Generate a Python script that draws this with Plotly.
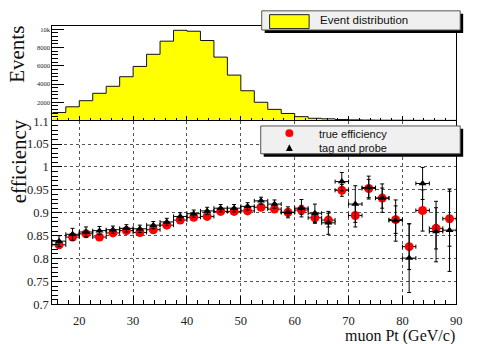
import plotly.graph_objects as go

# ---------------- data ----------------
bin_edges = [15, 17.5, 20, 22.5, 25, 27.5, 30, 32.5, 35, 37.5, 40, 42.5, 45, 47.5, 50,
             52.5, 55, 57.5, 60, 62.5, 65, 67.5, 70, 72.5, 75, 77.5, 80, 82.5, 85, 87.5, 90]
events = [870, 1500, 2170, 2980, 3750, 4800, 5930, 7260, 8700, 9890, 9790, 8770, 6950, 4980, 3260,
          2000, 1220, 770, 420, 240, 180, 110, 70, 50, 35, 30, 20, 15, 12, 10]

pt_centers = [16.25, 18.75, 21.25, 23.75, 26.25, 28.75, 31.25, 33.75, 36.25, 38.75,
              41.25, 43.75, 46.25, 48.75, 51.25, 53.75, 56.25, 58.75, 61.25, 63.75,
              66.25, 68.75, 71.25, 73.75, 76.25, 78.75, 81.25, 83.75, 86.25, 88.75]
pt_halfwidth = [1.25] * 30

true_eff = [0.830, 0.847, 0.854, 0.847, 0.856, 0.861, 0.857, 0.863, 0.873, 0.884,
            0.890, 0.892, 0.903, 0.903, 0.904, 0.912, 0.908, 0.901, 0.906, 0.889,
            0.884, 0.949, 0.894, 0.953, 0.932, 0.885, 0.826, 0.905, 0.866, 0.887]
true_err = [0.006, 0.006, 0.005, 0.005, 0.005, 0.004, 0.004, 0.004, 0.004, 0.004,
            0.004, 0.004, 0.004, 0.005, 0.005, 0.005, 0.006, 0.008, 0.010, 0.012,
            0.015, 0.013, 0.025, 0.020, 0.022, 0.030, 0.050, 0.045, 0.045, 0.060]

tp_eff = [0.838, 0.853, 0.858, 0.861, 0.863, 0.866, 0.865, 0.873, 0.880, 0.892,
          0.898, 0.904, 0.910, 0.910, 0.914, 0.926, 0.919, 0.901, 0.910, 0.899,
          0.878, 0.968, 0.919, 0.955, 0.932, 0.883, 0.801, 0.964, 0.859, 0.862]
tp_err = [0.012, 0.013, 0.011, 0.009, 0.008, 0.008, 0.008, 0.008, 0.008, 0.008,
          0.008, 0.008, 0.008, 0.008, 0.008, 0.008, 0.009, 0.012, 0.019, 0.020,
          0.025, 0.020, 0.040, 0.025, 0.031, 0.045, 0.075, 0.035, 0.066, 0.090]

W, H = 483, 344
SERIF = "Liberation Serif"
SANS = "Liberation Sans"


def px(x):
    return x / W


def py(y):
    return 1 - y / H


fig = go.Figure()

# histogram (top pad) as filled step
step_y = events + [events[-1]]
fig.add_trace(go.Scatter(x=bin_edges, y=step_y, mode="lines", line=dict(shape="hv", color="#111111", width=1),
                         fill="tozeroy", fillcolor="#ffff00", xaxis="x2", yaxis="y2", showlegend=False,
                         hoverinfo="skip"))

# efficiencies (bottom pad)
fig.add_trace(go.Scatter(x=pt_centers, y=true_eff, mode="markers",
                         marker=dict(symbol="circle", size=9, color="#ff0000"),
                         error_y=dict(type="data", array=true_err, color="black", thickness=1, width=2),
                         error_x=dict(type="data", array=pt_halfwidth, color="black", thickness=1, width=2),
                         showlegend=False))
fig.add_trace(go.Scatter(x=pt_centers, y=tp_eff, mode="markers",
                         marker=dict(symbol="triangle-up", size=7, color="black"),
                         error_y=dict(type="data", array=tp_err, color="black", thickness=1, width=2),
                         error_x=dict(type="data", array=pt_halfwidth, color="black", thickness=1, width=2),
                         showlegend=False))

xdom = [px(53), px(462)]
tick_font = dict(family=SERIF, size=12.5, color="#222222")

fig.update_layout(
    width=W, height=H, margin=dict(l=0, r=0, t=0, b=0),
    paper_bgcolor="white", plot_bgcolor="white",
    xaxis=dict(domain=xdom, anchor="y", range=[15, 90], dtick=10, tick0=0,
               ticks="inside", ticklen=8, tickcolor="black", showline=True, linecolor="black",
               linewidth=1, mirror=True, showgrid=True, gridcolor="#555555", griddash="dot",
               gridwidth=1, zeroline=False, tickfont=tick_font, ticklabelstandoff=5,
               minor=dict(dtick=2, ticks="inside", ticklen=4, tickcolor="black", showgrid=False)),
    yaxis=dict(domain=[py(310), py(119)], anchor="x", range=[0.7, 1.1], dtick=0.05, tick0=0.7,
               ticks="inside", ticklen=10, tickcolor="black", showline=True, linecolor="black",
               linewidth=1, mirror=True, showgrid=True, gridcolor="#555555", griddash="dot",
               gridwidth=1, zeroline=False, tickfont=tick_font,
               minor=dict(dtick=0.01, ticks="inside", ticklen=6, tickcolor="black", showgrid=False)),
    xaxis2=dict(domain=xdom, anchor="y2", range=[15, 90], matches="x", dtick=10, tick0=0,
                ticks="inside", ticklen=4, tickcolor="black", showline=True, linecolor="black",
                linewidth=1, mirror=True, showgrid=False, zeroline=False, showticklabels=False,
                minor=dict(dtick=2, ticks="inside", ticklen=2, tickcolor="black")),
    yaxis2=dict(domain=[py(118.3), py(19.6)], anchor="x2", range=[0, 10385], dtick=2000, tick0=0,
                ticks="inside", ticklen=12, tickcolor="black", showline=True, linecolor="black",
                linewidth=1, mirror=True, showgrid=False, zeroline=False,
                tickvals=[2000, 4000, 6000, 8000, 10000],
                tickfont=dict(family=SERIF, size=6.5, color="#222222"),
                minor=dict(dtick=400, ticks="inside", ticklen=6, tickcolor="black")),
)

shapes = []
annotations = []

# Legend 1
shapes.append(dict(type="rect", xref="paper", yref="paper", x0=px(268), x1=px(469), y0=py(27), y1=py(7),
                   fillcolor="black", line=dict(width=0)))
shapes.append(dict(type="rect", xref="paper", yref="paper", x0=px(265), x1=px(466), y0=py(24), y1=py(4),
                   fillcolor="#f0f0f0", line=dict(color="#555555", width=1)))
shapes.append(dict(type="rect", xref="paper", yref="paper", x0=px(273), x1=px(313), y0=py(22.5), y1=py(8),
                   fillcolor="#ffff00", line=dict(color="#222222", width=1)))
annotations.append(dict(x=px(322), y=py(14), xref="paper", yref="paper", text="Event distribution",
                        showarrow=False, xanchor="left", yanchor="middle",
                        font=dict(family=SANS, size=11.5, color="#111111")))

# Legend 2
shapes.append(dict(type="rect", xref="paper", yref="paper", x0=px(267), x1=px(469), y0=py(156), y1=py(127),
                   fillcolor="black", line=dict(width=0)))
shapes.append(dict(type="rect", xref="paper", yref="paper", x0=px(264), x1=px(466), y0=py(153), y1=py(124),
                   fillcolor="#f0f0f0", line=dict(color="#555555", width=1)))
shapes.append(dict(type="circle", xref="paper", yref="paper", x0=px(289), x1=px(297), y0=py(135.5), y1=py(127.5),
                   fillcolor="#ff0000", line=dict(width=0)))
tri = "M {:.5f} {:.5f} L {:.5f} {:.5f} L {:.5f} {:.5f} Z".format(px(293), py(143), px(289.5), py(150), px(296.5), py(150))
shapes.append(dict(type="path", xref="paper", yref="paper", path=tri, fillcolor="black", line=dict(width=0)))
annotations.append(dict(x=px(321), y=py(132), xref="paper", yref="paper", text="true efficiency",
                        showarrow=False, xanchor="left", yanchor="middle",
                        font=dict(family=SANS, size=11, color="#111111")))
annotations.append(dict(x=px(321), y=py(146.5), xref="paper", yref="paper", text="tag and probe",
                        showarrow=False, xanchor="left", yanchor="middle",
                        font=dict(family=SANS, size=11, color="#111111")))

# Axis titles
annotations.append(dict(x=px(17), y=py(49), xref="paper", yref="paper", text="Events", textangle=-90,
                        showarrow=False, xanchor="center", yanchor="middle",
                        font=dict(family=SERIF, size=21, color="#111111")))
annotations.append(dict(x=px(20), y=py(161), xref="paper", yref="paper", text="efficiency", textangle=-90,
                        showarrow=False, xanchor="center", yanchor="middle",
                        font=dict(family=SERIF, size=21, color="#111111")))
annotations.append(dict(x=px(463), y=py(337), xref="paper", yref="paper", text="muon Pt (GeV/c)",
                        showarrow=False, xanchor="right", yanchor="middle", yshift=-6,
                        font=dict(family=SERIF, size=16, color="#111111")))

fig.update_layout(shapes=shapes, annotations=annotations)

fig.write_html("out.html")
